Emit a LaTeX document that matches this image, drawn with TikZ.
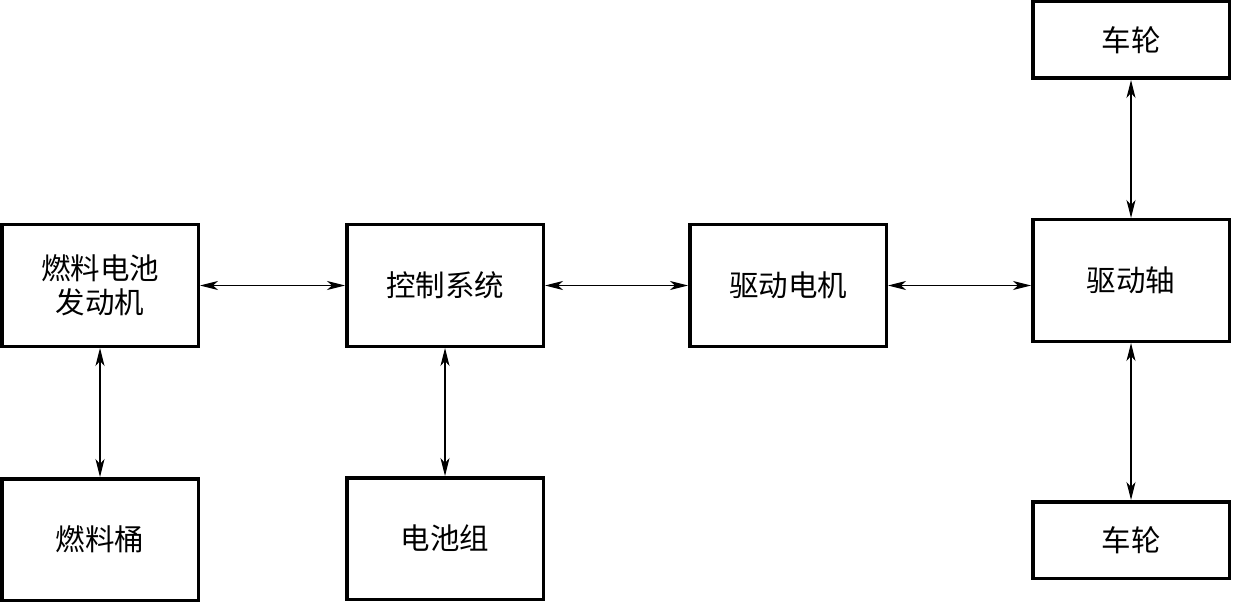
\documentclass[tikz,border=0pt]{standalone}
\usepackage{fontspec}
\newfontfamily\cjk{Noto Sans CJK SC}
\usepackage{tikz}
\usetikzlibrary{arrows.meta,positioning,calc}
\tikzset{box/.style={draw=black,line width=3.5pt,minimum width=196.5pt,minimum height=121.5pt,
  inner sep=0pt,align=center,font=\cjk\fontsize{29.5}{34}\selectfont},
  wheel/.style={box,minimum height=76.5pt},
  flow/.style={{Stealth[length=18pt,width=9pt,inset=5pt]}-{Stealth[length=18pt,width=9pt,inset=5pt]},line width=1.2pt}}

\begin{document}
\begin{tikzpicture}[x=1pt,y=-1pt]
\useasboundingbox (0,0) rectangle (1234,604);
\node[box] (eng) at (100,285.5) {燃料电池\\发动机};
\node[box,right=145pt of eng] (ctrl) {控制系统};
\node[box,right=143pt of ctrl] (motor) {驱动电机};
\node[box,right=143pt of motor,yshift=5pt] (shaft) {驱动轴};
\node[wheel,above=138pt of shaft] (wtop) {车轮};
\node[wheel,below=157pt of shaft] (wbot) {车轮};
\node[box,below=129pt of eng] (tank) {燃料桶};
\node[box,below=128pt of ctrl] (bat) {电池组};
\draw[flow] (eng.east) -- (ctrl.west);
\draw[flow] (ctrl.east) -- (motor.west);
\draw[flow] (motor.east) -- (motor.east -| shaft.west);
\draw[flow] (eng.south) -- (tank.north);
\draw[flow] (ctrl.south) -- (bat.north);
\draw[flow] (wtop.south) -- (shaft.north);
\draw[flow] (shaft.south) -- (wbot.north);
\end{tikzpicture}
\end{document}
